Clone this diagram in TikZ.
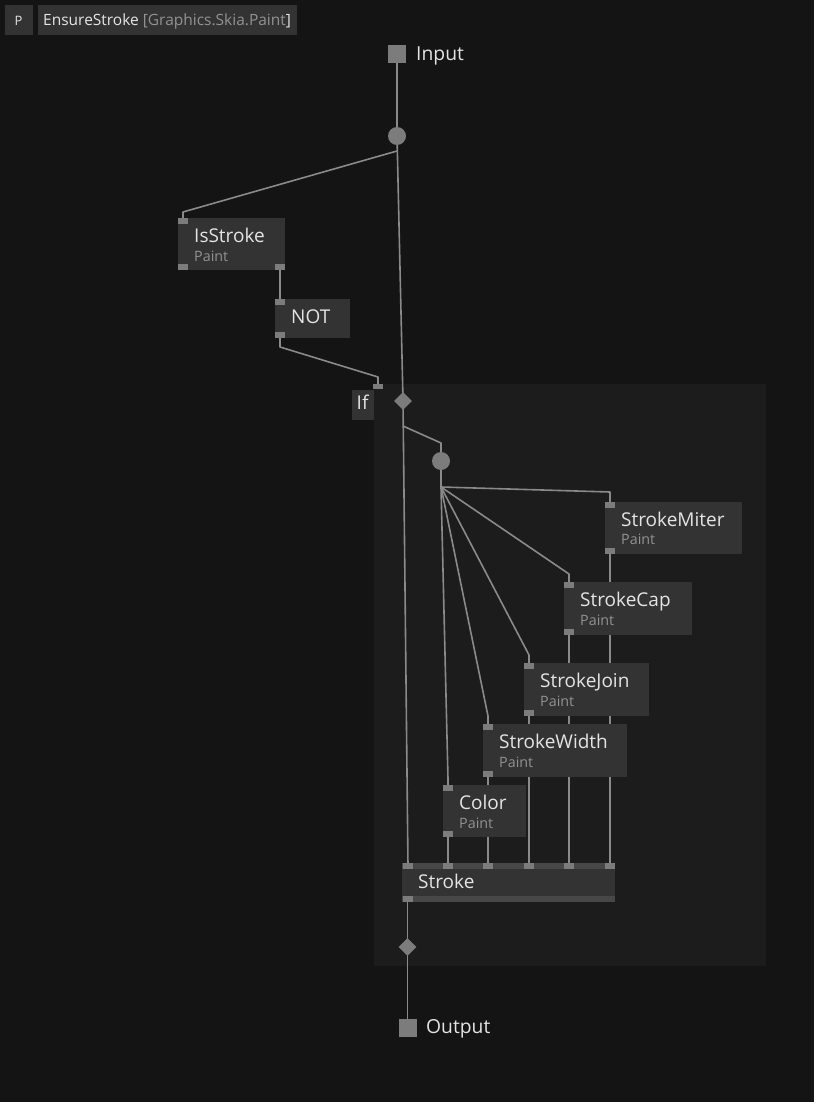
\documentclass[tikz,border=0pt]{standalone}
\usepackage{fontspec}
\setmainfont{Open Sans}
\usetikzlibrary{shapes.geometric}
\definecolor{bgc}{HTML}{141414}
\definecolor{regc}{HTML}{1C1C1C}
\definecolor{boxc}{HTML}{333333}
\definecolor{pinc}{HTML}{7C7C7C}
\definecolor{edgec}{HTML}{8A8A8A}
\definecolor{txtc}{HTML}{E4E4E4}
\definecolor{subc}{HTML}{929292}
\definecolor{bandc}{HTML}{474747}
\pgfdeclarelayer{regionlayer}
\pgfdeclarelayer{edgelayer}
\pgfsetlayers{regionlayer,edgelayer,main}
\tikzset{
  nodebox/.style={rectangle, fill=boxc, draw=none, inner sep=0pt, anchor=north west},
  band/.style={rectangle, fill=bandc, draw=none, inner sep=0pt, anchor=north west, minimum height=6pt},
  pinbox/.style={rectangle, fill=pinc, draw=none, inner sep=0pt, minimum width=10pt, minimum height=6pt},
  pad/.style={rectangle, fill=pinc, draw=none, inner sep=0pt, minimum size=18pt},
  splitc/.style={circle, fill=pinc, draw=none, inner sep=0pt, minimum size=18pt},
  passd/.style={diamond, fill=pinc, draw=none, inner sep=0pt, minimum width=18pt, minimum height=18pt},
  region/.style={rectangle, fill=regc, draw=none, inner sep=0pt, anchor=north west},
  ttl/.style={anchor=base west, inner sep=0pt, text=txtc, font=\fontsize{19}{21}\selectfont},
  subt/.style={anchor=base west, inner sep=0pt, text=subc, font=\fontsize{14.3}{16}\selectfont},
  hdrtxt/.style={anchor=base west, inner sep=0pt, text=txtc, font=\fontsize{15.5}{17}\selectfont},
  iolbl/.style={anchor=base west, inner sep=0pt, text=txtc, font=\fontsize{19.3}{21}\selectfont},
  conn/.style={draw=edgec, line width=1.6pt, line join=round}
}
\begin{document}
\begin{tikzpicture}[x=1pt,y=-1pt]
\useasboundingbox (0,0) rectangle (814,1102);
\begin{pgfonlayer}{regionlayer}
\fill[bgc] (0,0) rectangle (814,1102);
\end{pgfonlayer}

% header
\node[nodebox, minimum width=28pt, minimum height=30pt] (pbox) at (5,5) {};
\node[hdrtxt, font=\fontsize{13}{15}\selectfont] (ptxt) at (14.5,25.5) {P};
\node[nodebox, minimum width=259pt, minimum height=30pt] (hbox) at (38,5) {};
\node[hdrtxt] (htxt) at (43,25.5) {EnsureStroke \textcolor{subc}{[Graphics.Skia.Paint}]};

% if region
\begin{pgfonlayer}{regionlayer}
\node[region, minimum width=392pt, minimum height=582pt] (ifregion) at (374,384) {};
\end{pgfonlayer}

% input
\node[pad] (input) at (397,54) {};
\node[iolbl] (inputlbl) at (416,60.5) {Input};
\node[splitc] (split1) at (397,136) {};
\coordinate (s1branch) at (397,151);

% IsStroke
\node[nodebox, minimum width=107pt, minimum height=52pt] (isstroke) at (178,218) {};
\node[ttl] (isstrokeT) at (194,242) {IsStroke};
\node[subt] (isstrokeS) at (194,261) {Paint};
\node[pinbox] (isIn) at (183,221) {};
\node[pinbox] (isOutL) at (183,267) {};
\node[pinbox] (isOut) at (280,267) {};

% NOT
\node[nodebox, minimum width=75pt, minimum height=39pt] (notn) at (275,299) {};
\node[ttl] (notT) at (291,323) {NOT};
\node[pinbox] (notIn) at (280,302) {};
\node[pinbox] (notOut) at (280,335) {};

% If
\node[pinbox, minimum height=5pt] (ifIn) at (378,386.5) {};
\node[nodebox, minimum width=22pt, minimum height=30pt] (ifbox) at (352,390) {};
\node[ttl] (ifT) at (356.5,409) {If};
\node[passd] (ifdia) at (403,401) {};
\coordinate (ifbranch) at (403,426);
\node[splitc] (split2) at (441,461) {};
\coordinate (hub) at (441,487);

% StrokeMiter
\node[nodebox, minimum width=137pt, minimum height=52pt] (miter) at (605,502) {};
\node[ttl] (miterT) at (621,526) {StrokeMiter};
\node[subt] (miterS) at (621,544) {Paint};
\node[pinbox] (miterIn) at (610,505) {};
\node[pinbox] (miterOut) at (610,551) {};

% StrokeCap
\node[nodebox, minimum width=128pt, minimum height=53pt] (cap) at (564,582) {};
\node[ttl] (capT) at (580,606) {StrokeCap};
\node[subt] (capS) at (580,625) {Paint};
\node[pinbox] (capIn) at (569,585) {};
\node[pinbox] (capOut) at (569,632) {};

% StrokeJoin
\node[nodebox, minimum width=125pt, minimum height=53pt] (join) at (524,663) {};
\node[ttl] (joinT) at (540,687) {StrokeJoin};
\node[subt] (joinS) at (540,706) {Paint};
\node[pinbox] (joinIn) at (529,666) {};
\node[pinbox] (joinOut) at (529,713) {};

% StrokeWidth
\node[nodebox, minimum width=144pt, minimum height=53pt] (width) at (483,724) {};
\node[ttl] (widthT) at (499,748) {StrokeWidth};
\node[subt] (widthS) at (499,767) {Paint};
\node[pinbox] (widthIn) at (488,727) {};
\node[pinbox] (widthOut) at (488,774) {};

% Color
\node[nodebox, minimum width=83pt, minimum height=52pt] (color) at (443,785) {};
\node[ttl] (colorT) at (459,809) {Color};
\node[subt] (colorS) at (459,828) {Paint};
\node[pinbox] (colorIn) at (448,788) {};
\node[pinbox] (colorOut) at (448,834) {};

% Stroke
\node[nodebox, minimum width=213pt, minimum height=39pt] (stroke) at (402,863) {};
\node[band, minimum width=213pt] (strokeTop) at (402,863) {};
\node[band, minimum width=213pt] (strokeBot) at (402,896) {};
\node[ttl] (strokeT) at (418,888) {Stroke};
\node[pinbox] (sIn1) at (408,866) {};
\node[pinbox] (sIn2) at (448,866) {};
\node[pinbox] (sIn3) at (488,866) {};
\node[pinbox] (sIn4) at (529,866) {};
\node[pinbox] (sIn5) at (569,866) {};
\node[pinbox] (sIn6) at (610,866) {};
\node[pinbox] (sOut) at (407.5,899) {};

% output
\node[passd] (outdia) at (407.5,947) {};
\node[pad] (output) at (407.5,1028) {};
\node[iolbl] (outputlbl) at (426,1033) {Output};

\begin{pgfonlayer}{edgelayer}
\draw[conn] (input.center) -- (split1.center);
\draw[conn] (split1.center) -- (ifdia.center);
\draw[conn] (s1branch) -- (183,212) -- (isIn.center);
\draw[conn] (isOut.center) -- (notIn.center);
\draw[conn] (notOut.center) -- (280,347) -- (378,377) -- (ifIn.center);
\draw[conn] (ifdia.center) -- (sIn1.center);
\draw[conn] (ifbranch) -- (441,443) -- (split2.center);
\draw[conn] (split2.center) -- (hub);
\draw[conn] (hub) -- (610,492) -- (miterIn.center);
\draw[conn] (hub) -- (569,574) -- (capIn.center);
\draw[conn] (hub) -- (529,655) -- (joinIn.center);
\draw[conn] (hub) -- (488,716) -- (widthIn.center);
\draw[conn] (hub) -- (448,779) -- (colorIn.center);
\draw[conn] (colorOut.center) -- (sIn2.center);
\draw[conn] (widthOut.center) -- (sIn3.center);
\draw[conn] (joinOut.center) -- (sIn4.center);
\draw[conn] (capOut.center) -- (sIn5.center);
\draw[conn] (miterOut.center) -- (sIn6.center);
\draw[conn] (sOut.center) -- (outdia.center);
\draw[conn] (outdia.center) -- (output.center);
\end{pgfonlayer}
\end{tikzpicture}
\end{document}
